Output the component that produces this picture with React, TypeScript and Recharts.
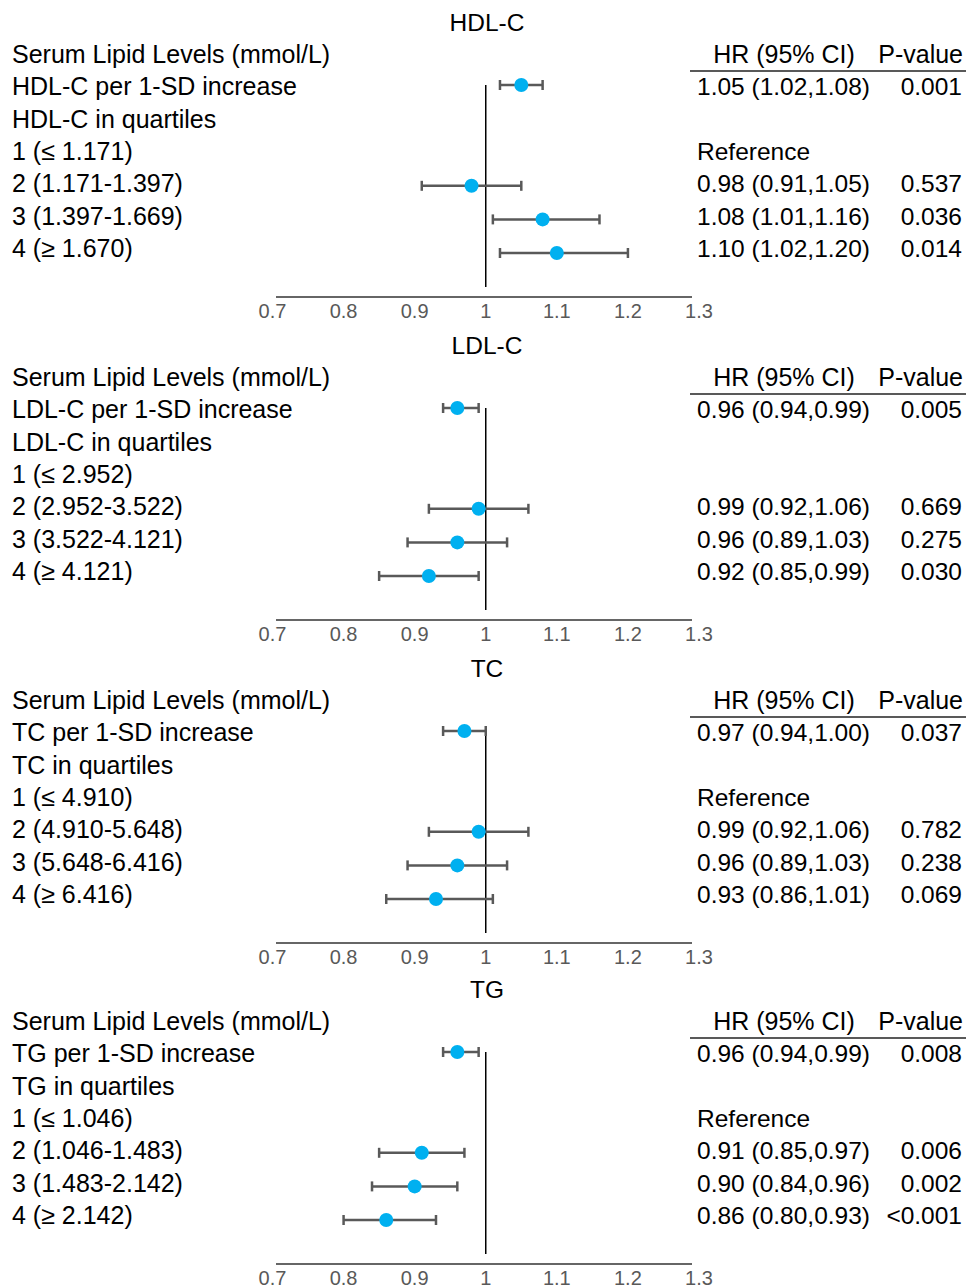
import { ScatterChart, Scatter, XAxis, YAxis, ErrorBar, ReferenceLine } from 'recharts'

const FONT = '"Liberation Sans", Arial, Helvetica, sans-serif'

// HDL-C
const hdlLabels = ['HDL-C per 1-SD increase', 'HDL-C in quartiles', '1 (≤ 1.171)', '2 (1.171-1.397)', '3 (1.397-1.669)', '4 (≥ 1.670)']
const hdlHR = [1.05, null, null, 0.98, 1.08, 1.1]
const hdlLow = [1.02, null, null, 0.91, 1.01, 1.02]
const hdlHigh = [1.08, null, null, 1.05, 1.16, 1.2]
const hdlP = ['0.001', '', '', '0.537', '0.036', '0.014']
const hdlNote = ['', '', 'Reference', '', '', '']

// LDL-C
const ldlLabels = ['LDL-C per 1-SD increase', 'LDL-C in quartiles', '1 (≤ 2.952)', '2 (2.952-3.522)', '3 (3.522-4.121)', '4 (≥ 4.121)']
const ldlHR = [0.96, null, null, 0.99, 0.96, 0.92]
const ldlLow = [0.94, null, null, 0.92, 0.89, 0.85]
const ldlHigh = [0.99, null, null, 1.06, 1.03, 0.99]
const ldlP = ['0.005', '', '', '0.669', '0.275', '0.030']
const ldlNote = ['', '', '', '', '', '']

// TC
const tcLabels = ['TC per 1-SD increase', 'TC in quartiles', '1 (≤ 4.910)', '2 (4.910-5.648)', '3 (5.648-6.416)', '4 (≥ 6.416)']
const tcHR = [0.97, null, null, 0.99, 0.96, 0.93]
const tcLow = [0.94, null, null, 0.92, 0.89, 0.86]
const tcHigh = [1.0, null, null, 1.06, 1.03, 1.01]
const tcP = ['0.037', '', '', '0.782', '0.238', '0.069']
const tcNote = ['', '', 'Reference', '', '', '']

// TG
const tgLabels = ['TG per 1-SD increase', 'TG in quartiles', '1 (≤ 1.046)', '2 (1.046-1.483)', '3 (1.483-2.142)', '4 (≥ 2.142)']
const tgHR = [0.96, null, null, 0.91, 0.9, 0.86]
const tgLow = [0.94, null, null, 0.85, 0.84, 0.8]
const tgHigh = [0.99, null, null, 0.97, 0.96, 0.93]
const tgP = ['0.008', '', '', '0.006', '0.002', '<0.001']
const tgNote = ['', '', 'Reference', '', '', '']

const xTicks = [0.7, 0.8, 0.9, 1, 1.1, 1.2, 1.3]

type Panel = {
  title: string
  labels: string[]
  hr: (number | null)[]
  low: (number | null)[]
  high: (number | null)[]
  p: string[]
  note: string[]
}

const panels: Panel[] = [
  { title: 'HDL-C', labels: hdlLabels, hr: hdlHR, low: hdlLow, high: hdlHigh, p: hdlP, note: hdlNote },
  { title: 'LDL-C', labels: ldlLabels, hr: ldlHR, low: ldlLow, high: ldlHigh, p: ldlP, note: ldlNote },
  { title: 'TC', labels: tcLabels, hr: tcHR, low: tcLow, high: tcHigh, p: tcP, note: tcNote },
  { title: 'TG', labels: tgLabels, hr: tgHR, low: tgLow, high: tgHigh, p: tgP, note: tgNote },
]

// layout (pixels inside one panel)
const W = 966
const H = 323
const PANEL_TOPS = [0, 323, 646, 967]
const PLOT_LEFT = 272.5
const PLOT_RIGHT = 699
const PLOT_H = 297
const ROW1_Y = 85
const TXT_ROW1_Y = 86.5
const PT_STEP = 33.6
const TXT_STEP = 32.4
const VLINE_END_Y = 287
const PX_PER_UNIT = (PLOT_RIGHT - PLOT_LEFT) / 0.6

const PT_DOMAIN = [1 - ROW1_Y / PT_STEP, 1 + (PLOT_H - ROW1_Y) / PT_STEP]
const TXT_DOMAIN = [1 - TXT_ROW1_Y / TXT_STEP, 1 + (PLOT_H - TXT_ROW1_Y) / TXT_STEP]
const VLINE_END = 1 + (VLINE_END_Y - ROW1_Y) / PT_STEP
const AXIS_X = [0.7 + (276 - PLOT_LEFT) / PX_PER_UNIT, 0.7 + (692 - PLOT_LEFT) / PX_PER_UNIT]

const Dot = (props: any) => <circle cx={props.cx} cy={props.cy} r={7} fill="#00B0F0" />

function ForestPanel({ panel }: { panel: Panel }) {
  const points = panel.hr.flatMap((v, i) =>
    v == null ? [] : [{ row: i + 1, hr: v, err: [v - (panel.low[i] as number), (panel.high[i] as number) - v] }]
  )

  const RowTick = (props: any) => {
    const y = props.y
    const i = props.payload.value
    const txt = { fontFamily: FONT, fontSize: 25, fill: '#000' }
    const val = { fontFamily: FONT, fontSize: 24.5, fill: '#000' }
    if (i === -1) {
      return (
        <text x={487} y={22} dy="0.35em" textAnchor="middle" {...val}>
          {panel.title}
        </text>
      )
    }
    if (i === 0) {
      return (
        <g>
          <text x={12} y={y} dy="0.35em" {...txt}>Serum Lipid Levels (mmol/L)</text>
          <text x={784} y={y} dy="0.35em" textAnchor="middle" {...txt}>HR (95% CI)</text>
          <text x={963} y={y} dy="0.35em" textAnchor="end" {...txt}>P-value</text>
          <line x1={690} x2={966} y1={71} y2={71} stroke="#222" strokeWidth={1.5} />
        </g>
      )
    }
    const k = i - 1
    const hr = panel.hr[k]
    const hrText =
      hr != null
        ? `${hr.toFixed(2)} (${(panel.low[k] as number).toFixed(2)},${(panel.high[k] as number).toFixed(2)})`
        : panel.note[k]
    return (
      <g>
        <text x={12} y={y} dy="0.35em" {...txt}>{panel.labels[k]}</text>
        {hrText && <text x={697} y={y} dy="0.35em" {...val}>{hrText}</text>}
        {panel.p[k] && <text x={962} y={y} dy="0.35em" textAnchor="end" {...val}>{panel.p[k]}</text>}
      </g>
    )
  }

  return (
    <ScatterChart width={W} height={H} margin={{ top: 0, right: W - PLOT_RIGHT, bottom: 0, left: PLOT_LEFT - 1 }}>
      <XAxis
        type="number"
        dataKey="hr"
        domain={[0.7, 1.3]}
        ticks={xTicks}
        interval={0}
        allowDataOverflow
        height={H - PLOT_H}
        axisLine={false}
        tickLine={false}
        tickSize={0}
        tickMargin={7}
        tick={{ fill: '#595959', fontSize: 20, fontFamily: FONT }}
      />
      <YAxis yAxisId="pts" type="number" dataKey="row" domain={PT_DOMAIN} reversed hide allowDataOverflow />
      <YAxis
        yAxisId="txt"
        type="number"
        domain={TXT_DOMAIN}
        ticks={[-1, 0, 1, 2, 3, 4, 5, 6]}
        interval={0}
        reversed
        allowDataOverflow
        width={1}
        axisLine={false}
        tickLine={false}
        tick={RowTick}
      />
      <ReferenceLine
        yAxisId="pts"
        segment={[{ x: 1, y: 1 }, { x: 1, y: VLINE_END }]}
        stroke="#000"
        strokeWidth={1.5}
      />
      <ReferenceLine
        yAxisId="pts"
        segment={[{ x: AXIS_X[0], y: PT_DOMAIN[1] }, { x: AXIS_X[1], y: PT_DOMAIN[1] }]}
        stroke="#333"
        strokeWidth={1.5}
      />
      <Scatter yAxisId="pts" data={points} dataKey="hr" isAnimationActive={false} shape={Dot}>
        <ErrorBar dataKey="err" direction="x" width={5} stroke="#595959" strokeWidth={2.5} isAnimationActive={false} />
      </Scatter>
    </ScatterChart>
  )
}

export default function App() {
  return (
    <div style={{ position: 'absolute', left: 0, top: 0, width: W, height: 1287, background: '#fff' }}>
      {panels.map((p, i) => (
        <div key={p.title} style={{ position: 'absolute', left: 0, top: PANEL_TOPS[i] }}>
          <ForestPanel panel={p} />
        </div>
      ))}
    </div>
  )
}
